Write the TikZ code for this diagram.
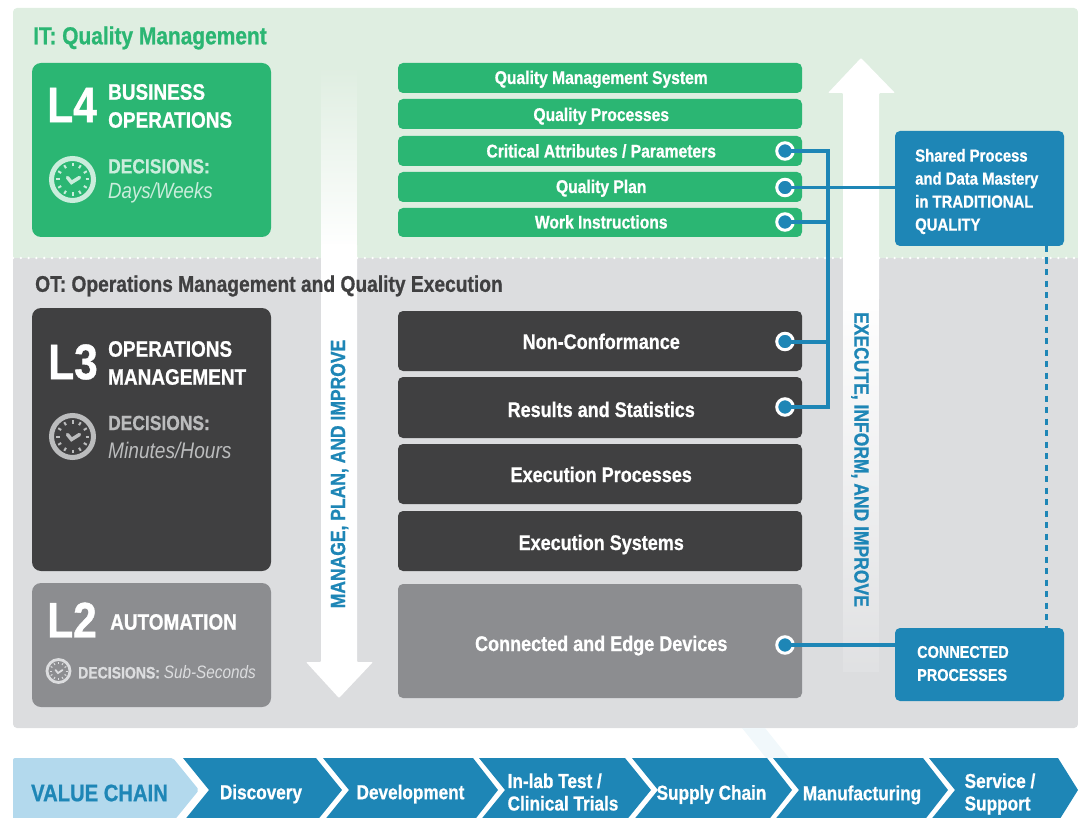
\documentclass[tikz,border=0pt]{standalone}
\usepackage{fontspec}
\setmainfont[FakeStretch=0.85,BoldFeatures={FakeBold=0.8}]{Liberation Sans}
\usetikzlibrary{fadings}
\definecolor{itbg}{HTML}{DFEEE1}
\definecolor{otbg}{HTML}{DCDDDF}
\definecolor{qgreen}{HTML}{2BB673}
\definecolor{qdark}{HTML}{404041}
\definecolor{qgrey}{HTML}{8C8D90}
\definecolor{qblue}{HTML}{1E86B6}
\definecolor{qlight}{HTML}{B3D9ED}
\tikzfading[name=fadein, top color=transparent!100, bottom color=transparent!0]
\tikzfading[name=fadeout, top color=transparent!0, bottom color=transparent!88]
\tikzset{
  panel/.style={rounded corners=4pt},
  level/.style={rounded corners=9pt},
  bar/.style={rounded corners=5pt, font=\bfseries\fontsize{18.4}{20}\selectfont, text=white, align=center, text depth=0pt, minimum width=404pt, execute at begin node={\hspace*{2.500pt}}},
  greenbar/.style={bar, fill=qgreen, minimum height=30pt, text height=#1},
  darkbar/.style={bar, fill=qdark, minimum height=60pt, font=\bfseries\fontsize{21.2}{24}\selectfont, text height=#1},
  tag/.style={font=\bfseries\fontsize{17.5}{23}\selectfont, text=white, align=left, anchor=west, inner sep=0pt},
  sidebox/.style={fill=qblue, rounded corners=5pt, minimum width=169pt},
  head/.style={font=\bfseries\fontsize{22.6}{28}\selectfont, anchor=west, inner sep=0pt},
  bigl/.style={font=\bfseries\fontsize{50}{50}\selectfont, text=white, anchor=west, inner sep=0pt},
  lvltxt/.style={font=\bfseries\fontsize{22.3}{28}\selectfont, text=white, align=left, anchor=west, inner sep=0pt},
  dec/.style={font=\bfseries\fontsize{20.5}{25}\selectfont, align=left, anchor=west, inner sep=0pt},
  axis/.style={font=\bfseries\fontsize{20.6}{20}\selectfont, text=qblue},
  chain/.style={font=\bfseries\fontsize{20.2}{22.5}\selectfont, text=white, align=left},
  link/.style={qblue, line width=4pt},
  dot/.style={circle, draw=white, fill=qblue, line width=3pt, minimum size=16.500pt, inner sep=0pt},
  clock/.pic={
    \draw[#1, line width=5pt] (0,0) circle [radius=21];
    \foreach \a in {0,30,...,330} {\draw[#1, line width=2pt] (\a:13) -- (\a:16.500);}
    \draw[#1, line width=3.500pt, line cap=round] (-5,-2) -- (-1,3) -- (7,-2);
  },
  smallclock/.pic={
    \draw[#1, line width=2.800pt] (0,0) circle [radius=11.500];
    \foreach \a in {0,30,...,330} {\draw[#1, line width=1pt] (\a:7) -- (\a:9);}
    \draw[#1, line width=1.800pt, line cap=round] (-3,-1) -- (-.5,2) -- (4,-1);
  }
}

\begin{document}
\begin{tikzpicture}[x=1pt,y=-1pt]
\useasboundingbox (0,0) rectangle (1078,818);
\clip (0,0) rectangle (1078,818);

% background panels
\fill[itbg, panel] (13,8) rectangle (1078,262);
\fill[otbg, panel] (13,254) rectangle (1078,728);
\fill[itbg] (13,240) rectangle (1078,258);
\fill[otbg] (13,258) rectangle (1078,270);

% big arrows
\fill[white, path fading=fadein] (321,65) rectangle (357,245);
\fill[white, rounded corners=1pt] (321,244) -- (357,244) -- (357,662) -- (373,662) -- (339,698) -- (306,662) -- (321,662) -- cycle;
\fill[white, rounded corners=1pt] (843,300) -- (843,93) -- (828,93) -- (861,58) -- (895,93) -- (879,93) -- (879,300) -- cycle;
\fill[white, path fading=fadeout] (843,299) rectangle (879,672);

\draw[white, line width=2.600pt, line cap=round, dash pattern=on 0pt off 7.800pt] (13,258) -- (321,258);
\draw[white, line width=2.600pt, line cap=round, dash pattern=on 0pt off 7.800pt] (357,258) -- (843,258);
\draw[white, line width=2.600pt, line cap=round, dash pattern=on 0pt off 7.800pt] (879,258) -- (1078,258);

\node[head, text=qgreen, font=\bfseries\fontsize{24.6}{28}\selectfont] (ithead) at (33,38) {IT: Quality Management};
\node[head, text=qdark] (othead) at (35,286) {OT: Operations Management and Quality Execution};

% levels
\fill[qgreen, level] (32,63) rectangle (271,237);
\fill[qdark, level] (32,308) rectangle (271,571);
\fill[qgrey, level] (32,583) rectangle (271,707);

\node[bigl] (lfour) at (47,105) {L4};
\node[lvltxt] (lfourtxt) at (108,106) {BUSINESS\\OPERATIONS};
\pic at (72.500,179.500) {clock={qgreen!25!white}};
\node[dec, text=qgreen!25!white] (lfourdec) at (108,181) {DECISIONS:\\\textit{\mdseries\fontsize{22}{25}\selectfont Days/Weeks}};

\node[bigl] (lthree) at (48,362) {L3};
\node[lvltxt] (lthreetxt) at (108,363) {OPERATIONS\\MANAGEMENT};
\pic at (72.500,436.500) {clock={otbg!85!black}};
\node[dec, text=otbg!85!black] (lthreedec) at (108,437) {DECISIONS:\\[3pt]\textit{\mdseries\fontsize{22.5}{25}\selectfont Minutes/Hours}};

\node[bigl] (ltwo) at (47,620) {L2};
\node[lvltxt] (ltwotxt) at (110,622) {AUTOMATION};
\pic at (58.500,671) {smallclock={otbg}};
\node[dec, text=otbg, font=\bfseries\fontsize{16.5}{22}\selectfont] (ltwodec) at (78,672) {DECISIONS: \textit{\mdseries\fontsize{18}{22}\selectfont Sub-Seconds}};

% middle bars
\node[greenbar=12pt] (qms) at (600,78) {Quality Management System};
\node[greenbar=14pt] (qproc) at (600,114) {Quality Processes};
\node[greenbar=13pt] (qattr) at (600,151) {Critical Attributes / Parameters};
\node[greenbar=12pt] (qplan) at (600,187) {Quality Plan};
\node[greenbar=12pt, minimum height=29pt] (qwork) at (600,222.500) {Work Instructions};

\node[darkbar=16pt] (nonconf) at (600,341) {Non-Conformance};
\node[darkbar=19pt, minimum height=61pt] (results) at (600,407.500) {Results and Statistics};
\node[darkbar=16pt] (execproc) at (600,474) {Execution Processes};
\node[darkbar=18pt] (execsys) at (600,541) {Execution Systems};
\node[darkbar=20pt, fill=qgrey, minimum height=114pt] (edge) at (600,641) {Connected and Edge Devices};

% side boxes
\node[sidebox, minimum height=115pt] (shared) at (979.500,188.500) {};
\node[tag] (sharedtxt) at (915,191.500) {Shared Process\\and Data Mastery\\in TRADITIONAL\\QUALITY};
\node[sidebox, minimum height=73pt] (connected) at (979.500,664.500) {};
\node[tag, font=\bfseries\fontsize{17}{23}\selectfont] (connectedtxt) at (917,663.500) {CONNECTED\\PROCESSES};

% connectors
\coordinate (spine) at (828,187);
\node[dot] (dattr) at (785,151) {};
\node[dot] (dplan) at (785,187.500) {};
\node[dot] (dwork) at (785,222) {};
\node[dot] (dnon) at (785,341.500) {};
\node[dot] (dres) at (785,407) {};
\node[dot] (dedge) at (785,645) {};

\draw[link] (dattr.center) -| (spine) |- (dres.center);
\draw[link] (dwork.center) -- (spine |- dwork);
\draw[link] (dnon.center) -- (spine |- dnon);
\draw[link, line width=3.500pt] (dplan.center) -- (shared.west |- dplan);
\draw[link, line width=3.500pt] (dedge.center) -- (connected.west |- dedge);
\coordinate (dashtop) at (1046,246);
\coordinate (dashbot) at (1046,628);
\draw[qblue, line width=3pt, dash pattern=on 6pt off 5.500pt] (dashtop) -- (dashbot);

% axis text
\node[axis, rotate=90] (manage) at (339.500,474) {MANAGE, PLAN, AND IMPROVE};
\node[axis, rotate=-90] (execute) at (860,459.500) {EXECUTE, INFORM, AND IMPROVE};

% value chain
\fill[qblue!6!white] (742,728) -- (765,728) -- (789,758) -- (766,758) -- cycle;
\fill[qlight, rounded corners=2pt] (13,758) -- (173,758) -- (199,790) -- (173,822) -- (13,822) -- cycle;
\fill[qblue] (183,758) -- (316,758) -- (342,790) -- (316,822) -- (183,822) -- (209,790) -- cycle;
\fill[qblue] (323,758) -- (473,758) -- (498,790) -- (473,822) -- (323,822) -- (349,790) -- cycle;
\fill[qblue] (479,758) -- (625,758) -- (651,790) -- (625,822) -- (479,822) -- (505,790) -- cycle;
\fill[qblue] (632,758) -- (767,758) -- (792,790) -- (767,822) -- (632,822) -- (658,790) -- cycle;
\fill[qblue] (773,758) -- (923,758) -- (948,790) -- (923,822) -- (773,822) -- (799,790) -- cycle;
\fill[qblue] (929,758) -- (1058,758) -- (1078,790) -- (1058,822) -- (929,822) -- (955,790) -- cycle;

\node[font=\bfseries\fontsize{23.8}{28}\selectfont, text=qblue] (vc) at (99.500,793) {VALUE CHAIN};
\node[chain] (discovery) at (261,794) {Discovery};
\node[chain] (development) at (410.500,794) {Development};
\node[chain] (inlab) at (563,792) {In-lab Test /\\Clinical Trials};
\node[chain] (supply) at (711.500,794.500) {Supply Chain};
\node[chain] (manufacturing) at (862,795) {Manufacturing};
\node[chain] (service) at (1000,794) {Service /\\Support};
\end{tikzpicture}
\end{document}
